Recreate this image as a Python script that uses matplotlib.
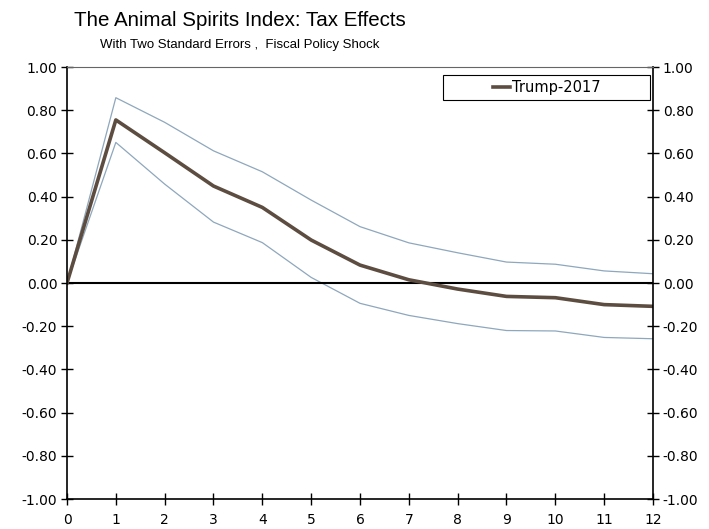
import matplotlib
matplotlib.use("Agg")
import matplotlib.pyplot as plt
from matplotlib.patches import Rectangle

# impulse response, with two standard error bands
periods = list(range(13))
trump_2017 = [0.0, 0.755, 0.603, 0.449, 0.350, 0.199, 0.083, 0.015, -0.028, -0.062, -0.068, -0.100, -0.108]
upper_band = [0.0, 0.858, 0.744, 0.612, 0.515, 0.384, 0.261, 0.186, 0.140, 0.097, 0.087, 0.056, 0.043]
lower_band = [0.0, 0.651, 0.458, 0.282, 0.187, 0.026, -0.094, -0.150, -0.188, -0.220, -0.222, -0.252, -0.258]
y_ticks = [-1.0, -0.8, -0.6, -0.4, -0.2, 0.0, 0.2, 0.4, 0.6, 0.8, 1.0]

plt.rcParams['font.family'] = ['DejaVu Sans']

fig = plt.figure(figsize=(7.09, 5.29), dpi=100)
ax = fig.add_axes([0.0945, 0.0567, 0.8265, 0.8166])

band_color = '#8ea7bd'
main_color = '#5d4d41'

ax.plot(periods, upper_band, color=band_color, lw=0.9)
ax.plot(periods, lower_band, color=band_color, lw=0.9)
ax.axhline(0, color='black', lw=1.5)
line, = ax.plot(periods, trump_2017, color=main_color, lw=2.6, label='Trump-2017')

ax.set_xlim(0, 12)
ax.set_ylim(-1, 1)
ax.set_xticks(periods)
ax.set_yticks(y_ticks)
ax.set_yticklabels([f'{v:.2f}' for v in y_ticks])
ax.tick_params(axis='both', direction='inout', length=8, width=1, labelsize=10,
               colors='black', pad=3)
ax.tick_params(axis='x', pad=6)
ax.tick_params(axis='y', left=True, right=True, labelleft=True, labelright=True)

ax.spines['top'].set_color('#666666')
for s in ['left', 'right', 'bottom']:
    ax.spines[s].set_color('black')
    ax.spines[s].set_linewidth(1.2)

# legend box
ax.add_patch(Rectangle((0.642, 0.924), 0.353, 0.058, transform=ax.transAxes,
                       fill=False, edgecolor='black', lw=0.8, zorder=5))
ax.legend(handles=[line], loc='center', bbox_to_anchor=(0.818, 0.953),
          frameon=False, fontsize=10.5, handlelength=1.2, handletextpad=0.1,
          borderpad=0)

fig.text(0.338, 0.962, 'The Animal Spirits Index: Tax Effects', ha='center', va='center',
         fontsize=14.8, family=['Liberation Sans', 'DejaVu Sans'])
fig.text(0.338, 0.915, 'With Two Standard Errors ,  Fiscal Policy Shock', ha='center', va='center',
         fontsize=9.5, family=['Liberation Sans', 'DejaVu Sans'])

fig.savefig('out.png', dpi=100)
